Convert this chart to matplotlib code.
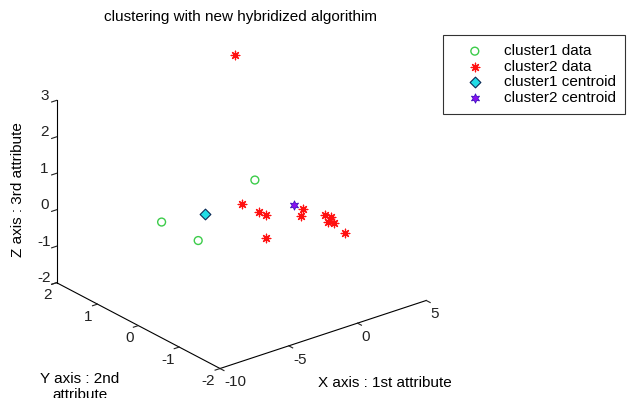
import numpy as np
import matplotlib
matplotlib.use("Agg")
import matplotlib.pyplot as plt

plt.rcParams['font.family'] = ['Liberation Sans', 'DejaVu Sans']
plt.rcParams['axes.unicode_minus'] = False

# cluster 1 (green circles)
c1_x = [-6.82, -7.13, -0.63]
c1_y = [0.50, -0.50, 0.30]
c1_z = [0.15, 0.27, 0.65]

# cluster 2 (red asterisks)
c2_x = [2.67, -3.34, -2.69, -2.47, -3.65, -0.58, 0.22, -0.01, 0.72, -0.08, 0.65, 0.57]
c2_y = [1.90, -0.30, -0.50, -0.60, -1.00, -0.80, -0.60, -1.20, -1.10, -1.30, -1.20, -1.50]
c2_z = [2.73, 0.69, 0.51, 0.46, 0.21, 0.30, 0.28, 0.49, 0.30, 0.37, 0.20, 0.11]

# centroids
cen1 = [-4.86, 0.10, 0.36]
cen2 = [-0.67, -0.68, 0.55]

x_ticks = [-10, -5, 0, 5]
y_ticks = [-2, -1, 0, 1, 2]
z_ticks = [-2, -1, 0, 1, 2, 3]

fig = plt.figure(figsize=(6.29, 3.98), dpi=100)
ax = fig.add_axes([-0.032, -0.033, 0.814, 1.031], projection='3d')
ax.set_proj_type('ortho')
ax.view_init(elev=24.6, azim=-128.4)
ax.set_box_aspect((1, 1, 0.762))

ax.scatter(c1_x, c1_y, c1_z, marker='o', s=32, facecolors='none',
           edgecolors='#3ccc4a', linewidths=1.0, depthshade=False, label='cluster1 data')
ax.scatter(c2_x, c2_y, c2_z, marker=(8, 2, 0), s=38, c='#ff1010',
           linewidths=0.9, depthshade=False, label='cluster2 data')
ax.scatter([cen1[0]], [cen1[1]], [cen1[2]], marker='D', s=30, c='#22dde6',
           edgecolors='#0a2a55', linewidths=0.8, depthshade=False, label='cluster1 centroid')
ax.scatter([cen2[0]], [cen2[1]], [cen2[2]], marker=(6, 1, 0), s=45, c='#8a10f0',
           edgecolors='#4010c0', linewidths=0.6, depthshade=False, label='cluster2 centroid')

ax.set_xlim(-10, 5)
ax.set_ylim(-2, 2)
ax.set_zlim(-2, 3)
ax.set_xticks(x_ticks)
ax.set_yticks(y_ticks)
ax.set_zticks(z_ticks)
ax.grid(False)
for a in (ax.xaxis, ax.yaxis, ax.zaxis):
    a.pane.fill = False
    a.pane.set_edgecolor('none')
    a.line.set_color('black')
    a.line.set_linewidth(0.8)
    a._axinfo['tick']['inward_factor'] = 0.3
    a._axinfo['tick']['outward_factor'] = 0.0
    a._axinfo['tick']['linewidth'] = {True: 0.8, False: 0.5}
ax.tick_params(labelsize=11, colors='#222222')
ax.xaxis.set_tick_params(pad=-4)
ax.yaxis.set_tick_params(pad=-4.5)
ax.zaxis.set_tick_params(pad=-3)
for t in ax.get_xticklabels():
    t.set_ha('left')
for t in ax.get_yticklabels():
    t.set_ha('right')
for t in ax.get_zticklabels():
    t.set_va('baseline')

fig.text(240 / 629, 1 - 17 / 398, 'clustering with new hybridized algorithim',
         ha='center', va='center', fontsize=11)
fig.text(18 / 629, 1 - 190 / 398, 'Z axis : 3rd attribute', rotation=90,
         ha='center', va='center', fontsize=11)
fig.text(80 / 629, 1 - 372 / 398, 'Y axis : 2nd\nattribute', ha='center', va='top',
         fontsize=11, linespacing=1.15)
fig.text(385 / 629, 1 - 383 / 398, 'X axis : 1st attribute', ha='center', va='center', fontsize=11)

leg = fig.legend(loc='upper right', bbox_to_anchor=(625 / 629, 1 - 35 / 398), fontsize=11,
                 frameon=True, fancybox=False, edgecolor='black', handletextpad=0.4,
                 handlelength=3.0, labelspacing=0.1, borderpad=0.6, borderaxespad=0,
                 scatterpoints=1)
leg.get_frame().set_linewidth(0.8)

fig.savefig('out.png', dpi=100)
